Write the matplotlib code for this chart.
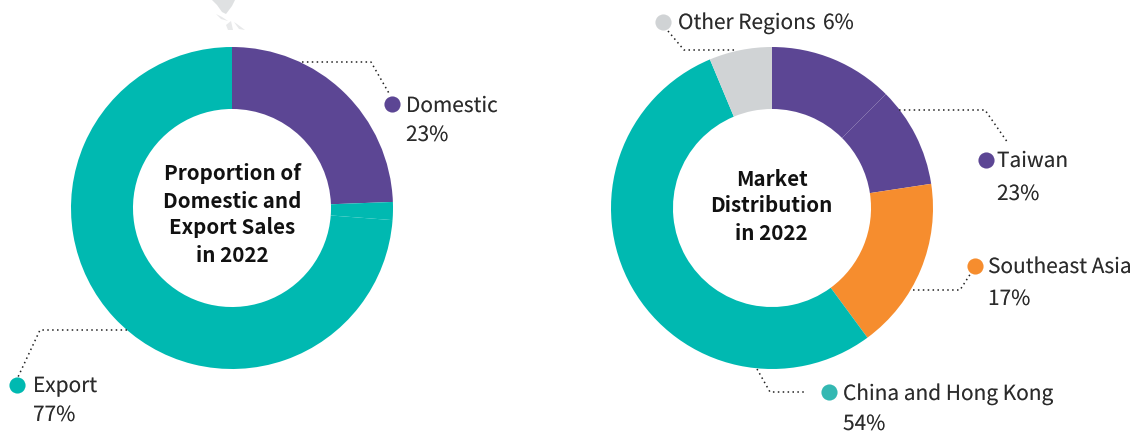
import matplotlib
matplotlib.use('Agg')
import matplotlib.pyplot as plt
import matplotlib.patheffects as pe

W, H = 1133, 433

# left donut, clockwise from 12 o'clock
sales_shares = [24.4, 1.8, 73.8]
sales_colors = ['#5c4694', '#00b9b1', '#00b9b1']

# right donut, Taiwan is split in two in the reference
market_shares = [12.5, 10.1, 17.3, 53.8, 6.3]
market_colors = ['#5c4694', '#5c4694', '#f68d2e', '#00b9b1', '#d0d3d5']

sales_labels = ['Domestic', 'Export']
sales_pcts = ['23%', '77%']
market_labels = ['Other Regions', 'Taiwan', 'Southeast Asia', 'China and Hong Kong']
market_pcts = ['6%', '23%', '17%', '54%']

sales_title = ['Proportion of', 'Domestic and', 'Export Sales', 'in 2022']
market_title = ['Market', 'Distribution', 'in 2022']

# bit of a map that pokes in at the top edge
map_body_x = [212, 235, 232, 226, 222, 217]
map_body_y = [0, 0, 6, 14, 12, 5]
map_bits = [
    ([216, 222, 228, 221], [14, 17, 21, 19]),
    ([226, 231, 233, 228], [25, 21, 30, 30]),
    ([234, 237, 245, 239], [22, 24, 30, 29]),
]

plt.rcParams['font.family'] = ['Noto Sans CJK TC', 'DejaVu Sans']

fig = plt.figure(figsize=(W / 100, H / 100), dpi=100)


def donut(cx, cy, r, shares, colors):
    # axes placed in pixels so the ring lands exactly
    ax = fig.add_axes([(cx - r) / W, 1 - (cy + r) / H, 2 * r / W, 2 * r / H])
    ax.pie(shares, colors=colors, startangle=90, counterclock=False, radius=1,
           wedgeprops={'width': 0.385, 'linewidth': 0})
    ax.set_xlim(-1, 1)
    ax.set_ylim(-1, 1)


donut(232, 208, 161, sales_shares, sales_colors)
donut(772, 208, 161, market_shares, market_colors)

# overlay in image pixels
ov = fig.add_axes([0, 0, 1, 1], facecolor='none')
ov.set_xlim(0, W)
ov.set_ylim(H, 0)
ov.axis('off')

ov.fill(map_body_x, map_body_y, color='#dfe1e2', lw=0)
for bx, by in map_bits:
    ov.fill(bx, by, color='#e8e9ea', lw=0)

# the CJK family has no light cut here, a thin white stroke slims the glyphs
thin = [pe.withStroke(linewidth=0.35, foreground='white')]


def body_text(x, y, s):
    t = ov.text(x, y, s, fontsize=15, color='#2b2b2b', va='center', ha='left')
    t.set_path_effects(thin)


def leader(xs, ys):
    ov.plot(xs, ys, color='#222222', lw=1.1, linestyle=(0, (1, 2.2)))


def dot(x, y, color):
    ov.scatter([x], [y], s=135, color=color, linewidths=0, zorder=3)


leader([302, 371, 390], [62, 62, 95])
dot(391.7, 104, '#5c4694')
body_text(406, 106, sales_labels[0])
body_text(406, 135, sales_pcts[0])

leader([127, 40, 18], [330, 330, 377])
dot(17, 385, '#00b9b1')
body_text(33, 386, sales_labels[1])
body_text(33, 415, sales_pcts[1])

leader([668, 684, 735], [31, 50, 50])
dot(663.3, 22, '#d0d3d5')
body_text(678, 23, market_labels[0])
body_text(823, 23, market_pcts[0])

leader([899, 985, 1008], [110, 110, 143])
dot(985.7, 159.7, '#5c4694')
body_text(997, 161, market_labels[1])
body_text(997, 194, market_pcts[1])

leader([913, 960, 971], [290, 290, 273])
dot(975, 265.7, '#f68d2e')
body_text(988, 267, market_labels[2])
body_text(988, 299, market_pcts[2])

leader([757, 770, 805], [369, 392, 392])
dot(828.7, 392.3, '#33b8b2')
body_text(843, 394, market_labels[3])
body_text(843, 424, market_pcts[3])

# centre titles
for y, line in zip([174, 201, 228, 255], sales_title):
    ov.text(232, y, line, fontsize=14.8, fontweight='bold', color='#111111', ha='center', va='center')
for y, line in zip([180, 206, 233], market_title):
    ov.text(771.5, y, line, fontsize=14.8, fontweight='bold', color='#111111', ha='center', va='center')

fig.savefig('out.png', dpi=100)
